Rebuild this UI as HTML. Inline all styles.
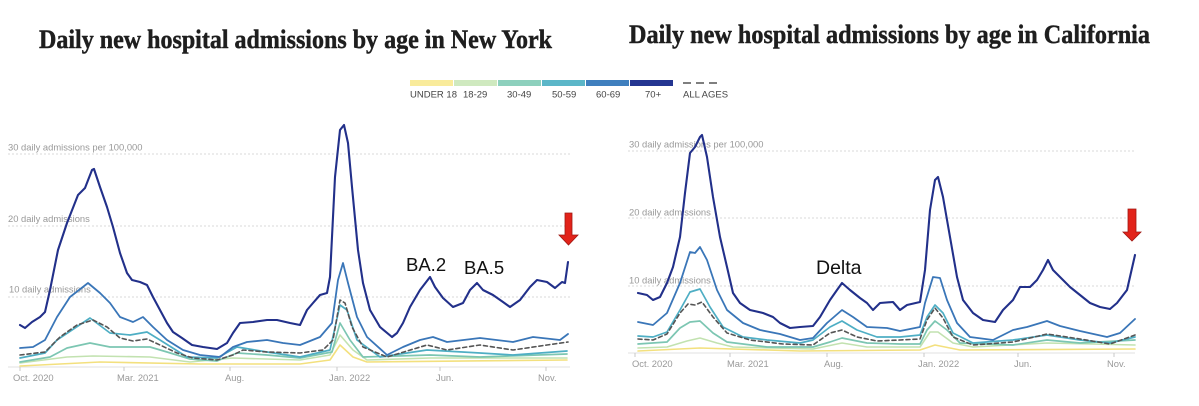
<!DOCTYPE html>
<html>
<head>
<meta charset="utf-8">
<style>
  html, body { margin:0; padding:0; background:#fff; }
  svg { display:block; }
  .ttl { font-family:"Liberation Serif", serif; font-weight:bold; fill:#1e1e1e; stroke:#1e1e1e; stroke-width:0.45px; }
  .lg { font-family:"Liberation Sans", sans-serif; font-size:9.5px; fill:#444; }
  .ax { font-family:"Liberation Sans", sans-serif; font-size:9.4px; fill:#999; }
  .ann { font-family:"Liberation Sans", sans-serif; fill:#111; }
  .grid { stroke:#d8d8d8; stroke-width:1; stroke-dasharray:2 2; fill:none; }
  .base { stroke:#e2e2e2; stroke-width:1; }
  .tick { stroke:#c8c8c8; stroke-width:1; }
  .l { fill:none; stroke-linejoin:round; stroke-linecap:round; }
</style>
</head>
<body>
<svg width="1199" height="406" viewBox="0 0 1199 406" xmlns="http://www.w3.org/2000/svg">
  <rect width="1199" height="406" fill="#fff"/>

  <!-- Titles -->
  <text class="ttl" x="39" y="48" font-size="26" textLength="513" lengthAdjust="spacingAndGlyphs">Daily new hospital admissions by age in New York</text>
  <text class="ttl" x="629" y="43" font-size="26" textLength="521" lengthAdjust="spacingAndGlyphs">Daily new hospital admissions by age in California</text>

  <!-- Legend -->
  <rect x="410" y="80" width="43" height="6" fill="#f9eb9b"/>
  <rect x="454" y="80" width="43" height="6" fill="#cfe9bf"/>
  <rect x="498" y="80" width="43" height="6" fill="#8dd0bd"/>
  <rect x="542" y="80" width="43" height="6" fill="#5bb6c8"/>
  <rect x="586" y="80" width="43" height="6" fill="#3f7fbe"/>
  <rect x="630" y="80" width="43" height="6" fill="#243591"/>
  <line x1="683" y1="83" x2="722" y2="83" stroke="#555" stroke-width="1.6" stroke-dasharray="8 5"/>
  <text class="lg" x="410" y="97.5">UNDER 18</text>
  <text class="lg" x="463" y="97.5">18-29</text>
  <text class="lg" x="507" y="97.5">30-49</text>
  <text class="lg" x="552" y="97.5">50-59</text>
  <text class="lg" x="596" y="97.5">60-69</text>
  <text class="lg" x="645" y="97.5">70+</text>
  <text class="lg" x="683" y="97.5">ALL AGES</text>

  <!-- ================= NEW YORK ================= -->
  <line class="grid" x1="8" y1="154" x2="570" y2="154"/>
  <line class="grid" x1="8" y1="226" x2="570" y2="226"/>
  <line class="grid" x1="8" y1="297" x2="570" y2="297"/>
  <line class="base" x1="8" y1="367" x2="570" y2="367"/>
  <text class="ax" x="8" y="150.5">30 daily admissions per 100,000</text>
  <text class="ax" x="8" y="222">20 daily admissions</text>
  <text class="ax" x="9" y="292.5">10 daily admissions</text>

  <line class="tick" x1="20" y1="367" x2="20" y2="371"/>
  <line class="tick" x1="124" y1="367" x2="124" y2="371"/>
  <line class="tick" x1="230" y1="367" x2="230" y2="371"/>
  <line class="tick" x1="337" y1="367" x2="337" y2="371"/>
  <line class="tick" x1="440" y1="367" x2="440" y2="371"/>
  <line class="tick" x1="546" y1="367" x2="546" y2="371"/>
  <text class="ax" x="13" y="381">Oct. 2020</text>
  <text class="ax" x="117" y="381">Mar. 2021</text>
  <text class="ax" x="225" y="381">Aug.</text>
  <text class="ax" x="329" y="381">Jan. 2022</text>
  <text class="ax" x="436" y="381">Jun.</text>
  <text class="ax" x="538" y="381">Nov.</text>

  <!-- NY series -->
  <polyline class="l" stroke="#f3e07e" stroke-width="1.6" points="20,366 100,362 200,364 300,364 330,360 340,345 353,357 367,362 567,360"/>
  <polyline class="l" stroke="#c2e2b0" stroke-width="1.6" points="20,363 67,357 93,356 150,357 190,362 233,358 300,360 330,355 340,335 353,350 367,360 430,358 567,358"/>
  <polyline class="l" stroke="#7cc6b2" stroke-width="1.7" points="20,362 50,357 67,348 90,343 110,347 150,347 167,352 190,359 217,361 237,353 267,355 300,358 332,352 340,323 350,340 363,357 430,355 480,357 567,354"/>
  <polyline class="l" stroke="#4eaec4" stroke-width="1.7" points="20,358 45,353 57,340 90,318 110,333 130,335 147,332 160,340 187,357 217,358 237,347 267,352 300,357 330,350 340,305 347,310 357,340 380,357 427,350 480,353 513,355 567,351"/>
  <polyline class="l" stroke="#3a76b8" stroke-width="1.8" points="20,348 33,347 45,340 57,317 70,297 88,283 100,293 110,303 120,317 133,322 143,317 153,327 167,340 183,350 200,355 220,357 233,347 247,342 267,340 283,343 300,345 320,337 332,323 338,280 343,263 348,283 357,317 367,337 387,355 403,347 420,340 433,337 447,342 480,338 513,342 533,337 560,340 568,334"/>
  <polyline class="l" stroke="#555" stroke-width="1.6" stroke-dasharray="4 3" points="20,355 45,352 60,337 77,325 93,320 107,327 120,338 133,341 147,339 160,345 177,353 193,358 217,360 233,355 243,350 267,352 300,353 323,350 333,340 340,300 345,303 352,327 363,347 387,357 427,345 447,350 480,345 513,350 547,345 568,342"/>
  <polyline class="l" stroke="#22308a" stroke-width="2.1" points="20,325 25,328 32,322 40,317 45,312 50,290 58,250 67,223 78,195 85,188 92,170 94,169 100,187 107,207 113,227 120,253 127,273 132,280 140,282 147,285 153,297 160,310 167,323 173,332 182,338 192,345 203,347 217,349 227,343 233,333 240,323 253,322 267,320 277,320 290,323 300,325 307,310 313,303 320,295 327,293 330,277 335,177 340,130 344,125 348,143 352,187 358,250 363,283 370,310 380,327 392,337 397,333 403,323 410,307 420,290 430,277 435,287 443,298 453,307 463,303 470,290 477,283 483,290 493,295 503,302 510,307 520,300 530,287 537,280 547,282 555,288 562,282 565,283 568,262"/>

  <!-- NY annotations -->
  <text class="ann" x="406" y="271" font-size="18.5">BA.2</text>
  <text class="ann" x="464" y="274" font-size="18.5">BA.5</text>
  <path d="M565,213 L572,213 L572,235 L578,235 L568.5,245 L559,235 L565,235 Z" fill="#e2231a" stroke="#a01812" stroke-width="0.8"/>

  <!-- ================= CALIFORNIA ================= -->
  <line class="grid" x1="628" y1="151" x2="1135" y2="151"/>
  <line class="grid" x1="628" y1="218" x2="1135" y2="218"/>
  <line class="grid" x1="628" y1="286" x2="1135" y2="286"/>
  <line class="base" x1="628" y1="353" x2="1135" y2="353"/>
  <text class="ax" x="629" y="147.5">30 daily admissions per 100,000</text>
  <text class="ax" x="629" y="215.5">20 daily admissions</text>
  <text class="ax" x="629" y="283.5">10 daily admissions</text>

  <line class="tick" x1="635" y1="353" x2="635" y2="357"/>
  <line class="tick" x1="730" y1="353" x2="730" y2="357"/>
  <line class="tick" x1="827" y1="353" x2="827" y2="357"/>
  <line class="tick" x1="924" y1="353" x2="924" y2="357"/>
  <line class="tick" x1="1018" y1="353" x2="1018" y2="357"/>
  <line class="tick" x1="1114" y1="353" x2="1114" y2="357"/>
  <text class="ax" x="632" y="367">Oct. 2020</text>
  <text class="ax" x="727" y="367">Mar. 2021</text>
  <text class="ax" x="824" y="367">Aug.</text>
  <text class="ax" x="918" y="367">Jan. 2022</text>
  <text class="ax" x="1014" y="367">Jun.</text>
  <text class="ax" x="1107" y="367">Nov.</text>

  <!-- CA series -->
  <polyline class="l" stroke="#f3e07e" stroke-width="1.6" points="638,351 700,348 800,351 920,350 935,345 960,350 1135,349"/>
  <polyline class="l" stroke="#c2e2b0" stroke-width="1.6" points="638,348 667,347 687,341 700,338 717,343 733,347 813,349 842,343 867,347 900,347 920,347 930,332 938,332 953,343 973,347 1047,343 1135,345"/>
  <polyline class="l" stroke="#7cc6b2" stroke-width="1.7" points="638,344 667,342 680,328 690,322 700,321 713,333 727,342 767,347 813,347 830,342 842,338 867,343 900,344 920,344 927,330 935,321 947,330 960,343 1013,345 1047,340 1080,343 1135,340"/>
  <polyline class="l" stroke="#4eaec4" stroke-width="1.7" points="638,336 653,337 667,332 680,310 690,292 700,289 710,307 723,327 743,337 767,340 800,343 813,340 830,327 842,321 857,330 877,337 900,337 920,335 927,317 935,305 943,313 953,333 973,343 1013,340 1047,335 1080,340 1110,343 1135,337"/>
  <polyline class="l" stroke="#3a76b8" stroke-width="1.8" points="638,322 653,325 667,313 680,283 690,252 695,253 700,247 707,260 717,290 727,310 743,323 760,330 780,334 800,340 813,338 827,323 842,310 853,317 867,327 887,328 900,331 920,327 925,303 933,277 940,278 947,300 957,323 970,337 993,340 1013,330 1027,327 1047,321 1060,326 1080,331 1107,337 1120,333 1135,319"/>
  <polyline class="l" stroke="#555" stroke-width="1.6" stroke-dasharray="4 3" points="638,339 653,340 667,334 680,313 688,304 695,305 702,302 713,317 727,333 750,340 783,344 813,345 830,333 842,330 857,337 877,341 900,340 920,339 927,320 935,308 943,318 953,337 973,345 1013,342 1047,334 1080,339 1110,344 1135,335"/>
  <polyline class="l" stroke="#22308a" stroke-width="2.1" points="638,293 647,295 653,300 660,297 667,283 673,267 680,237 685,193 690,153 695,147 700,137 702,135 707,157 713,197 720,237 727,267 733,293 740,303 750,310 763,313 773,317 780,323 790,328 800,327 813,326 820,317 830,300 837,290 842,283 850,290 860,298 867,303 873,310 880,303 893,302 900,310 907,305 920,302 925,270 930,210 935,180 938,177 943,197 950,237 957,277 963,300 973,313 983,320 995,322 1003,310 1013,300 1020,287 1030,287 1037,280 1043,270 1048,260 1053,270 1063,280 1070,287 1080,295 1090,303 1100,307 1110,309 1117,303 1127,290 1135,255"/>

  <!-- CA annotations -->
  <text class="ann" x="816" y="274" font-size="19.5">Delta</text>
  <path d="M1128,209 L1136,209 L1136,232 L1141,232 L1132,241 L1123,232 L1128,232 Z" fill="#e2231a" stroke="#a01812" stroke-width="0.8"/>
</svg>
</body>
</html>
